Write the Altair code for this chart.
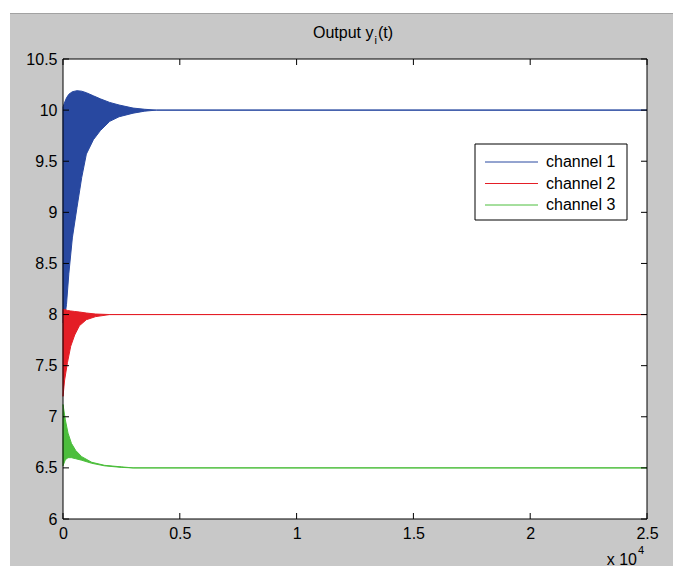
import altair as alt
import pandas as pd

# ---------------- data ----------------
channels = ["channel 1", "channel 2", "channel 3"]
colors = ["#2848a0", "#e41e26", "#4cbe3c"]

# channel 1: envelope of the oscillating output (upper / lower)
t1 = [0, 60, 150, 250, 400, 600, 800, 1000, 1300, 1600, 2000, 2400, 3000, 3500, 4000, 25000]
hi1 = [10.03, 10.07, 10.12, 10.155, 10.18, 10.19, 10.185, 10.17, 10.14, 10.11, 10.075, 10.05, 10.02, 10.008, 10.0, 10.0]
lo1 = [7.92, 7.95, 8.10, 8.40, 8.75, 9.05, 9.34, 9.57, 9.71, 9.80, 9.89, 9.935, 9.97, 9.99, 10.0, 10.0]

# channel 2
t2 = [0, 70, 190, 330, 500, 700, 1000, 1400, 2000, 25000]
hi2 = [8.05, 8.05, 8.04, 8.035, 8.03, 8.025, 8.015, 8.005, 8.0, 8.0]
lo2 = [7.20, 7.36, 7.53, 7.69, 7.80, 7.89, 7.95, 7.98, 8.0, 8.0]

# channel 3
t3 = [0, 100, 215, 360, 545, 800, 1230, 1780, 2500, 3000, 25000]
hi3 = [7.12, 6.97, 6.84, 6.74, 6.67, 6.61, 6.555, 6.525, 6.51, 6.5, 6.5]
lo3 = [6.52, 6.58, 6.60, 6.60, 6.59, 6.575, 6.545, 6.52, 6.505, 6.5, 6.5]

x_ticks = [0, 5000, 10000, 15000, 20000, 25000]
y_ticks = [6, 6.5, 7, 7.5, 8, 8.5, 9, 9.5, 10, 10.5]

title_main = "Output y"
title_sub = "i"
title_tail = "(t)"
x_mult = "x 10"
x_mult_exp = "4"

# ---------------- layout ----------------
W, H = 584, 460
FONT = "Liberation Sans"
GREY = "#c8c8c8"

rows = []
for name, ts, his, los in zip(channels, [t1, t2, t3], [hi1, hi2, hi3], [lo1, lo2, lo3]):
    for t, h, l in zip(ts, his, los):
        rows.append({"channel": name, "t": t, "hi": h, "lo": l})
df = pd.DataFrame(rows)

xscale = alt.Scale(domain=[0, 25000], nice=False, zero=False)
yscale = alt.Scale(domain=[6, 10.5], nice=False, zero=False)
cscale = alt.Scale(domain=channels, range=colors)

xaxis = alt.Axis(values=x_ticks, labelExpr="datum.value / 10000 + ''", title=None,
                 grid=False, ticks=False, tickSize=0, domain=False, labelPadding=6,
                 labelFontSize=16, labelFont=FONT, labelColor="black",
                 labelFlush=False, labelOverlap=False, zindex=1)
yaxis = alt.Axis(values=y_ticks, labelExpr="datum.value + ''", title=None,
                 grid=False, ticks=False, tickSize=0, domain=False, labelPadding=6,
                 labelFontSize=16, labelFont=FONT, labelColor="black",
                 labelOverlap=False, zindex=1)

one = pd.DataFrame({"k": [0]})

bg = alt.Chart(one).mark_rect(color=GREY).encode(
    x=alt.value(-53), x2=alt.value(W + 60), y=alt.value(-45), y2=alt.value(H + 80))
topline = alt.Chart(one).mark_rule(color="#a2a2a2", strokeWidth=1).encode(
    x=alt.value(-53), x2=alt.value(W + 60), y=alt.value(-45.5))
plotbg = alt.Chart(one).mark_rect(color="white").encode(
    x=alt.value(0), x2=alt.value(W), y=alt.value(0), y2=alt.value(H))

areas = alt.Chart(df).mark_area(strokeWidth=1, opacity=1, interpolate="linear").encode(
    x=alt.X("t:Q", scale=xscale, axis=xaxis),
    y=alt.Y("hi:Q", scale=yscale, axis=yaxis),
    y2="lo:Q",
    color=alt.Color("channel:N", scale=cscale, legend=None),
    stroke=alt.Stroke("channel:N", scale=cscale, legend=None),
)

border = alt.Chart(one).mark_rect(fillOpacity=0, stroke="black", strokeWidth=1).encode(
    x=alt.value(0), x2=alt.value(W), y=alt.value(0), y2=alt.value(H))

yt = pd.DataFrame({"v": y_ticks})
xt = pd.DataFrame({"u": x_ticks})
TL = 6
tick_left = alt.Chart(yt).mark_rule(color="black", strokeWidth=1).encode(
    y=alt.Y("v:Q", scale=yscale, axis=yaxis), x=alt.value(0), x2=alt.value(TL))
tick_right = alt.Chart(yt).mark_rule(color="black", strokeWidth=1).encode(
    y=alt.Y("v:Q", scale=yscale, axis=yaxis), x=alt.value(W - TL), x2=alt.value(W))
tick_bottom = alt.Chart(xt).mark_rule(color="black", strokeWidth=1).encode(
    x=alt.X("u:Q", scale=xscale, axis=xaxis), y=alt.value(H - TL), y2=alt.value(H))
tick_top = alt.Chart(xt).mark_rule(color="black", strokeWidth=1).encode(
    x=alt.X("u:Q", scale=xscale, axis=xaxis), y=alt.value(0), y2=alt.value(TL))

# legend box drawn by hand
LX0, LX1, LY0, LY1 = 412, 564, 85, 161
legbox = alt.Chart(one).mark_rect(fill="white", stroke="black", strokeWidth=1).encode(
    x=alt.value(LX0), x2=alt.value(LX1), y=alt.value(LY0), y2=alt.value(LY1))
leg_layers = []
for i, name in enumerate(channels):
    ly = 103 + 21.5 * i
    d = pd.DataFrame({"channel": [name]})
    leg_layers.append(alt.Chart(d).mark_rule(strokeWidth=1).encode(
        x=alt.value(422), x2=alt.value(475), y=alt.value(ly),
        color=alt.Color("channel:N", scale=cscale, legend=None)))
    leg_layers.append(alt.Chart(d).mark_text(
        align="left", baseline="middle", fontSize=16, font=FONT, color="black").encode(
        x=alt.value(483), y=alt.value(ly), text="channel:N"))

# title with subscript
t_a = alt.Chart(one).mark_text(align="right", baseline="alphabetic", fontSize=16,
                                font=FONT, color="black").encode(
    x=alt.value(310.5), y=alt.value(-21.3), text=alt.value(title_main))
t_b = alt.Chart(one).mark_text(align="center", baseline="alphabetic", fontSize=11,
                                font=FONT, color="black").encode(
    x=alt.value(312.8), y=alt.value(-15.5), text=alt.value(title_sub))
t_c = alt.Chart(one).mark_text(align="left", baseline="alphabetic", fontSize=16,
                                font=FONT, color="black").encode(
    x=alt.value(315), y=alt.value(-21.3), text=alt.value(title_tail))

# x 10^4 multiplier
m_a = alt.Chart(one).mark_text(align="right", baseline="alphabetic", fontSize=16,
                                font=FONT, color="black").encode(
    x=alt.value(574), y=alt.value(505.5), text=alt.value(x_mult))
m_b = alt.Chart(one).mark_text(align="left", baseline="alphabetic", fontSize=11,
                                font=FONT, color="black").encode(
    x=alt.value(575), y=alt.value(495), text=alt.value(x_mult_exp))

chart = alt.layer(
    bg, topline, plotbg, areas, border,
    tick_left, tick_right, tick_bottom, tick_top,
    legbox, *leg_layers, t_a, t_b, t_c, m_a, m_b,
).properties(
    width=W, height=H,
    padding={"left": 55, "top": 51, "right": 26, "bottom": 47},
    autosize=alt.AutoSizeParams(type="none"),
).configure(background="white").configure_view(strokeWidth=0)

chart.save("out.html", embed_options={"renderer": "svg", "actions": False})
